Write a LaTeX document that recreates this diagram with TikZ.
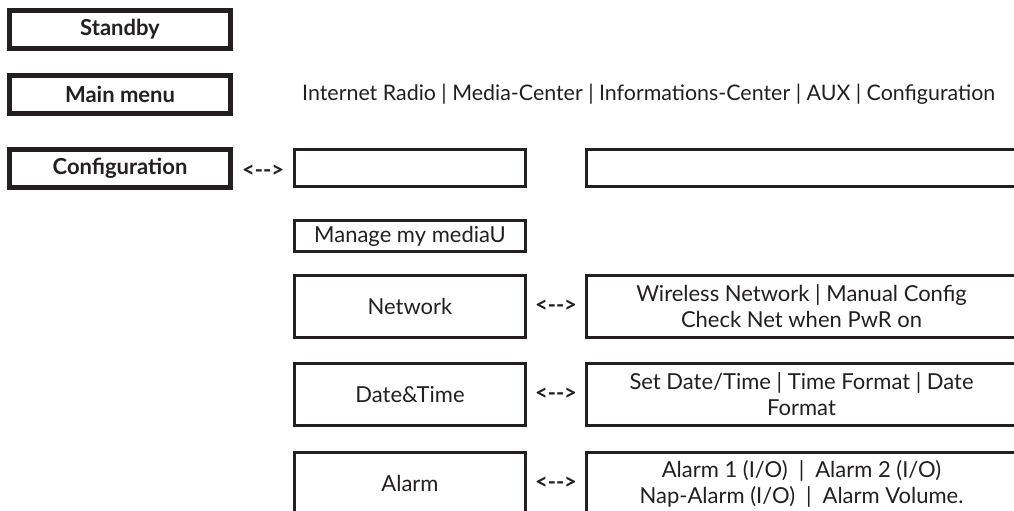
\documentclass[tikz,border=0pt]{standalone}
\usepackage{fontspec}
\setmainfont{Lato}
\usetikzlibrary{positioning, calc}
\definecolor{ink}{HTML}{231F20}
\tikzset{
  menunode/.style = {align=center, inner sep=1pt, text centered,
    font=\fontsize{22}{26}\selectfont, text=ink},
  mm_head/.style = {menunode, rectangle, draw=ink, line width=5pt,
    minimum width=221pt, minimum height=38pt,
    font=\fontsize{22}{26}\selectfont\bfseries},% titre de menu
  mm_sub/.style = {menunode, rectangle, draw=ink, line width=3pt,
    minimum width=231pt, minimum height=62pt},% entree de sous-menu
  mm_opt/.style = {menunode, rectangle, draw=ink, line width=3pt,
    minimum width=430pt, minimum height=62pt},% options de l'entree
  mm_link/.style = {menunode, inner sep=3pt,
    font=\fontsize{22}{26}\selectfont\bfseries}% le lien <-->
}

\begin{document}
\begin{tikzpicture}[x=1pt, y=-1pt]
  \useasboundingbox (0,0) rectangle (1014,511);
  \node (standby) [mm_head] at (120,29.5) {Standby};
  \node (mainmenu) [mm_head] at (120,94.5) {Main menu};
  \node (conf) [mm_head] at (120,168.5) {Configuration};
  \node (mm_list) [menunode, right=68pt of mainmenu,
    font=\fontsize{21.4}{26}\selectfont]
    {Internet Radio | Media-Center | Informations-Center | AUX | Configuration};
  % colonne des sous-menus
  \node (cf_top) [mm_sub, minimum height=37pt] at (410,168) {};
  \node (cf_manage) [mm_sub, minimum height=31pt, below=31pt of cf_top]
    {Manage my mediaU};
  \node (cf_net) [mm_sub, below=21pt of cf_manage] {Network};
  \node (cf_date) [mm_sub, below=23pt of cf_net] {Date\&Time};
  \node (cf_alarm) [mm_sub, below=24pt of cf_date] {Alarm};
  % colonne des options
  \node (op_top) [mm_opt, minimum height=37pt, right=58pt of cf_top] {};
  \node (op_net) [mm_opt, right=58pt of cf_net]
    {Wireless Network | Manual Config\\Check Net when PwR on};
  \node (op_date) [mm_opt, right=58pt of cf_date]
    {Set Date/Time | Time Format | Date\\Format};
  \node (op_alarm) [mm_opt, right=58pt of cf_alarm]
    {Alarm 1 (I/O)\enspace|\enspace Alarm 2 (I/O)\\
     Nap-Alarm (I/O)\enspace|\enspace Alarm Volume.};
  % les liens
  \node (ln_conf) [mm_link, right=6pt of conf, yshift=-3pt] {<-{}->};
  \node (ln_net) [mm_link] at ($(cf_net.east)!0.5!(op_net.west)$) {<-{}->};
  \node (ln_date) [mm_link] at ($(cf_date.east)!0.5!(op_date.west)$) {<-{}->};
  \node (ln_alarm) [mm_link] at ($(cf_alarm.east)!0.5!(op_alarm.west)$) {<-{}->};
\end{tikzpicture}
\end{document}
